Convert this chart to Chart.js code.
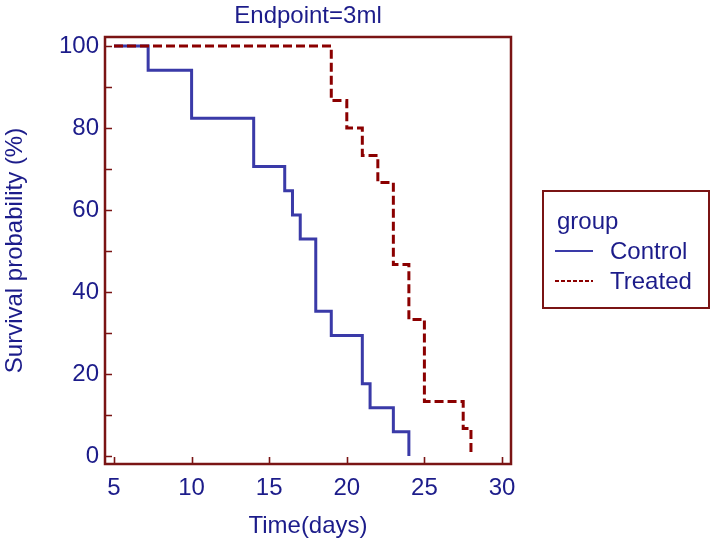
<!DOCTYPE html>
<html>
<head>
<meta charset="utf-8">
<script src="https://cdn.jsdelivr.net/npm/chart.js@4"></script>
<style>
html,body{margin:0;padding:0;background:#fff;}
#wrap{width:715px;height:542px;}
</style>
</head>
<body>
<div id="wrap"><canvas id="c" width="715" height="542"></canvas></div>
<script>
// ---- data ----
const chartTitle = "Endpoint=3ml";
const xTitle = "Time(days)";
const yTitle = "Survival probability (%)";
const legendTitle = "group";
const seriesNames = ["Control", "Treated"];
const controlTimes = [5, 7.2, 10, 14, 16, 16.5, 17, 18, 19, 21, 21.5, 23, 24];
const controlSurv  = [100, 94.1, 82.4, 70.6, 64.7, 58.8, 52.9, 35.3, 29.4, 17.6, 11.8, 5.9, 0];
const treatedTimes = [5, 19, 20, 21, 22, 23, 24, 25, 27.5, 28];
const treatedSurv  = [100, 86.7, 80.0, 73.3, 66.7, 46.7, 33.3, 13.3, 6.7, 0];
const xTicks = [5, 10, 15, 20, 25, 30];
const yTicks = [0, 20, 40, 60, 80, 100];

const NAVY = "#1c1c8a";
const BLUE = "#3a3aa8";
const RED = "#8b0000";
const FRAME = "#7a1414";
const FONT = "'Liberation Sans', Arial, sans-serif";
const FS = 24;

function toXY(xs, ys){ return xs.map((x,i)=>({x:x, y:ys[i]})); }

const framePlugin = {
  id: 'frame',
  afterDraw(chart){
    const ctx = chart.ctx, a = chart.chartArea;
    const xs = chart.scales.x, ys = chart.scales.y;
    ctx.save();
    ctx.strokeStyle = FRAME;
    ctx.lineWidth = 2.5;
    ctx.strokeRect(a.left, a.top, a.right - a.left, a.bottom - a.top);
    ctx.lineWidth = 1.6;
    ctx.beginPath();
    for (let v = 0; v <= 100; v += 10){
      const py = Math.round(ys.getPixelForValue(v)) + 0.5;
      ctx.moveTo(a.left, py); ctx.lineTo(a.left + 7, py);
    }
    xTicks.forEach(v=>{
      const px = Math.round(xs.getPixelForValue(v)) + 0.5;
      ctx.moveTo(px, a.bottom); ctx.lineTo(px, a.bottom - 7);
    });
    ctx.stroke();

    // legend box
    const bx = 543, by = 191, bw = 166, bh = 117;
    ctx.lineWidth = 2;
    ctx.strokeRect(bx, by, bw, bh);
    ctx.font = FS + "px " + FONT;
    ctx.fillStyle = NAVY;
    ctx.textBaseline = 'middle';
    ctx.textAlign = 'left';
    ctx.fillText(legendTitle, 557, 222);
    const rows = [{y:251, color:BLUE, dash:[], w:2, name:chart.data.datasets[1].label},
                  {y:281, color:RED, dash:[4,2], w:2, name:chart.data.datasets[0].label}];
    rows.forEach(r=>{
      ctx.save();
      ctx.strokeStyle = r.color; ctx.lineWidth = r.w; ctx.setLineDash(r.dash);
      ctx.beginPath(); ctx.moveTo(555, r.y); ctx.lineTo(593, r.y); ctx.stroke();
      ctx.restore();
      ctx.fillStyle = NAVY;
      ctx.fillText(r.name, 610, r.y + 1);
    });
    ctx.restore();
  }
};

new Chart(document.getElementById('c'), {
  type: 'line',
  data: {
    datasets: [
      { label: seriesNames[1], data: toXY(treatedTimes, treatedSurv), stepped: true,
        borderColor: RED, borderWidth: 3, borderDash: [9,4], pointRadius: 0, fill: false, order: 0 },
      { label: seriesNames[0], data: toXY(controlTimes, controlSurv), stepped: true,
        borderColor: BLUE, borderWidth: 3, pointRadius: 0, fill: false, order: 1 }
    ]
  },
  options: {
    responsive: false,
    animation: false,
    layout: { padding: { top: 0, right: 204, bottom: 0, left: 0 } },
    plugins: {
      legend: { display: false },
      tooltip: { enabled: false },
      title: { display: true, text: chartTitle, fullSize: false, color: NAVY,
               font: { family: FONT, size: FS, weight: 'normal' }, padding: { top: 2, bottom: 6.2 } }
    },
    scales: {
      x: {
        type: 'linear', min: 4.42, max: 30.58,
        afterFit(s){ s.height = 78; },
        grid: { display: false, drawTicks: false },
        border: { display: false },
        ticks: { stepSize: 5, includeBounds: false, padding: 10, color: NAVY,
                 font: { family: FONT, size: FS }, maxRotation: 0, autoSkip: false },
        title: { display: true, text: xTitle, color: NAVY, font: { family: FONT, size: FS },
                 padding: { top: 0, bottom: 1.5 } }
      },
      y: {
        type: 'linear', min: -1.95, max: 102.2,
        afterFit(s){ s.width = 105; },
        grid: { display: false, drawTicks: false },
        border: { display: false },
        ticks: { stepSize: 20, includeBounds: false, padding: 6, color: NAVY,
                 font: { family: FONT, size: FS } },
        title: { display: true, text: yTitle, color: NAVY, font: { family: FONT, size: FS },
                 padding: { top: 1, bottom: 0 } }
      }
    }
  },
  plugins: [framePlugin]
});
</script>
</body>
</html>
